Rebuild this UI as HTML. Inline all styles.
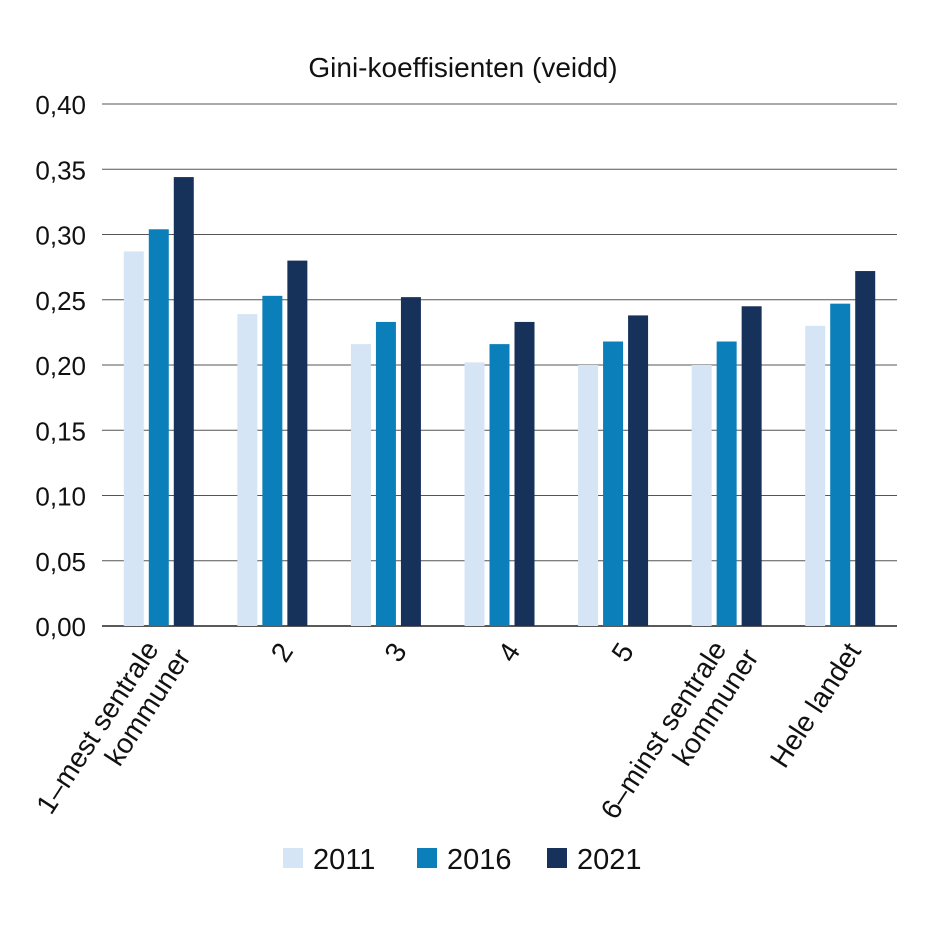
<!DOCTYPE html>
<html><head><meta charset="utf-8"><style>
body{margin:0;background:#fff}
svg text{font-family:"Liberation Sans",sans-serif;fill:#111}
</style></head><body>
<svg id="chart" width="942" height="921" viewBox="0 0 942 921" xmlns="http://www.w3.org/2000/svg">
<text x="463" y="77" font-size="28" text-anchor="middle">Gini-koeffisienten (veidd)</text>
<g id="grid"></g><g id="bars"></g><g id="xlabels"></g><g id="legend"></g>
</svg>
<script>
const categories=[["1–mest sentrale","kommuner"],["2"],["3"],["4"],["5"],["6–minst sentrale","kommuner"],["Hele landet"]];
const seriesNames=["2011","2016","2021"];
const s2011=[0.287,0.239,0.216,0.202,0.200,0.200,0.230];
const s2016=[0.304,0.253,0.233,0.216,0.218,0.218,0.247];
const s2021=[0.344,0.280,0.252,0.233,0.238,0.245,0.272];
const ticks=[0,0.05,0.10,0.15,0.20,0.25,0.30,0.35,0.40];
const tickLabels=["0,00","0,05","0,10","0,15","0,20","0,25","0,30","0,35","0,40"];
const colors=["#d5e5f5","#0a7fb9","#17325a"];
const NS="http://www.w3.org/2000/svg";
const x0=102,x1=897,yb=626,yt=104;
const y=v=>yb-(v/0.40)*(yb-yt);
const gw=(x1-x0)/categories.length;
const gx=i=>x0+gw*(i+0.5);
function mk(t,a,p){const e=document.createElementNS(NS,t);for(const k in a)e.setAttribute(k,a[k]);p.appendChild(e);return e;}
const grid=document.getElementById('grid');
ticks.forEach((t,i)=>{
 const l=mk('line',{x1:x0,x2:x1,y1:y(t),y2:y(t),stroke:i==0?'#222':'#555','stroke-width':i==0?1.5:1},grid);
 
 
 const tx=mk('text',{x:86,y:y(t)+10,'font-size':26,'text-anchor':'end'},grid);
 tx.textContent=tickLabels[i];
 
 
});
const bars=document.getElementById('bars');
const series=[s2011,s2016,s2021];
const bw=20,gap=5;
series.forEach((s,k)=>s.forEach((v,i)=>{
 const bx=gx(i)+(k-1)*(bw+gap)-bw/2;
 const r=mk('rect',{x:bx,y:y(v),width:bw,height:yb-y(v),fill:colors[k]},bars);
 
 
}));
const xl=document.getElementById('xlabels');
categories.forEach((c,i)=>{
 c.forEach((line,j)=>{
  let tx,ty;
  if(c.length>1){tx=gx(i)+(j==0?-16:16);ty=j==0?638:646;}
  else{tx=gx(i)+5;ty=640;}
  const t=mk('text',{transform:`translate(${tx},${ty}) rotate(-57)`,'font-size':28,'text-anchor':'end',y:20},xl);
  t.textContent=line;
  
  
 });
});
const lg=document.getElementById('legend');
const lx=[283,417,547];
seriesNames.forEach((n,k)=>{
 const r=mk('rect',{x:lx[k],y:848,width:20,height:20,fill:colors[k]},lg);
 
 
 const t=mk('text',{x:lx[k]+30,y:869,'font-size':29},lg);
 t.textContent=n;
 
 
});
</script>
</body></html>
